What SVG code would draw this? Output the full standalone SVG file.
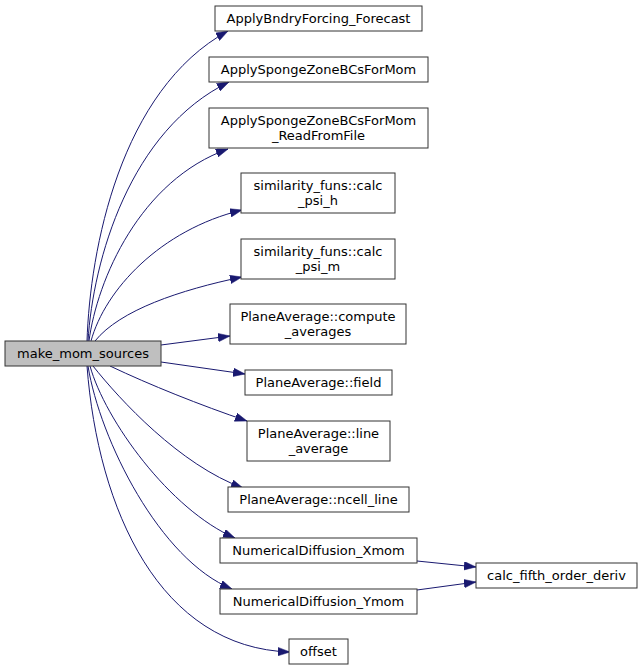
<svg xmlns="http://www.w3.org/2000/svg" width="643" height="671" viewBox="0 0 643 671">
<style>
.n rect{fill:#ffffff;stroke:#333333;stroke-width:1}
.main rect{fill:#bfbfbf;stroke:#333333;stroke-width:1}
text{font-family:"DejaVu Sans",sans-serif;font-size:13px;fill:#000000;text-anchor:middle}
.e path{fill:none;stroke:#191970;stroke-width:1;marker-end:url(#ah)}
</style>
<defs>
<marker id="ah" markerUnits="userSpaceOnUse" markerWidth="13" markerHeight="9" refX="12" refY="4.25" orient="auto">
<path d="M0,0 L12,4.25 L0,8.5 z" fill="#191970" stroke="#191970" stroke-width="0.5"/>
</marker>
</defs>
<rect width="643" height="671" fill="#ffffff"/>
<g id="connectors" class="e">
<path d="M87,341 C90,250 120,90 228,31"/>
<path d="M88,341 C93,260 130,130 229,82"/>
<path d="M89,341 C97,280 140,180 228,149"/>
<path d="M91,341 C105,290 160,230 242,210"/>
<path d="M95,341 C120,310 180,290 242,277"/>
<path d="M161,345 L230,336"/>
<path d="M161,362 L245,374"/>
<path d="M110,366 C150,385 200,405 247,421"/>
<path d="M93,366 C120,400 180,465 243,488"/>
<path d="M90,366 C105,420 170,510 235,538"/>
<path d="M88,366 C100,440 160,560 232,589"/>
<path d="M87,366 C98,510 160,648 290,652"/>
<path d="M417,561 L476,567"/>
<path d="M417,590 L476,582"/>
</g>
<g id="make_mom_sources" class="main"><rect x="5" y="341" width="156" height="25"/><text x="83" y="358">make_mom_sources</text></g>
<g id="ApplyBndryForcing_Forecast" class="n"><rect x="215" y="6" width="207" height="25"/><text x="318.5" y="23">ApplyBndryForcing_Forecast</text></g>
<g id="ApplySpongeZoneBCsForMom" class="n"><rect x="209" y="57" width="219" height="25"/><text x="318.5" y="74">ApplySpongeZoneBCsForMom</text></g>
<g id="ApplySpongeZoneBCsForMom_ReadFromFile" class="n"><rect x="209" y="108" width="219" height="40"/><text x="318.5" y="125">ApplySpongeZoneBCsForMom</text><text x="318.5" y="140">_ReadFromFile</text></g>
<g id="calc_psi_h" class="n"><rect x="241" y="173" width="154" height="40"/><text x="318" y="190">similarity_funs::calc</text><text x="318" y="205">_psi_h</text></g>
<g id="calc_psi_m" class="n"><rect x="241" y="239" width="154" height="40"/><text x="318" y="256">similarity_funs::calc</text><text x="318" y="271">_psi_m</text></g>
<g id="compute_averages" class="n"><rect x="230" y="304" width="176" height="40"/><text x="318" y="321">PlaneAverage::compute</text><text x="318" y="336">_averages</text></g>
<g id="field" class="n"><rect x="245" y="370" width="147" height="25"/><text x="318.5" y="387">PlaneAverage::field</text></g>
<g id="line_average" class="n"><rect x="247" y="421" width="143" height="40"/><text x="318.5" y="438">PlaneAverage::line</text><text x="318.5" y="453">_average</text></g>
<g id="ncell_line" class="n"><rect x="228" y="487" width="181" height="25"/><text x="318.5" y="504">PlaneAverage::ncell_line</text></g>
<g id="NumericalDiffusion_Xmom" class="n"><rect x="220" y="538" width="197" height="25"/><text x="318.5" y="555">NumericalDiffusion_Xmom</text></g>
<g id="NumericalDiffusion_Ymom" class="n"><rect x="220" y="589" width="197" height="25"/><text x="318.5" y="606">NumericalDiffusion_Ymom</text></g>
<g id="offset" class="n"><rect x="289" y="639" width="59" height="25"/><text x="318.5" y="656">offset</text></g>
<g id="calc_fifth_order_deriv" class="n"><rect x="476" y="563" width="161" height="25"/><text x="556.5" y="580">calc_fifth_order_deriv</text></g>
</svg>
